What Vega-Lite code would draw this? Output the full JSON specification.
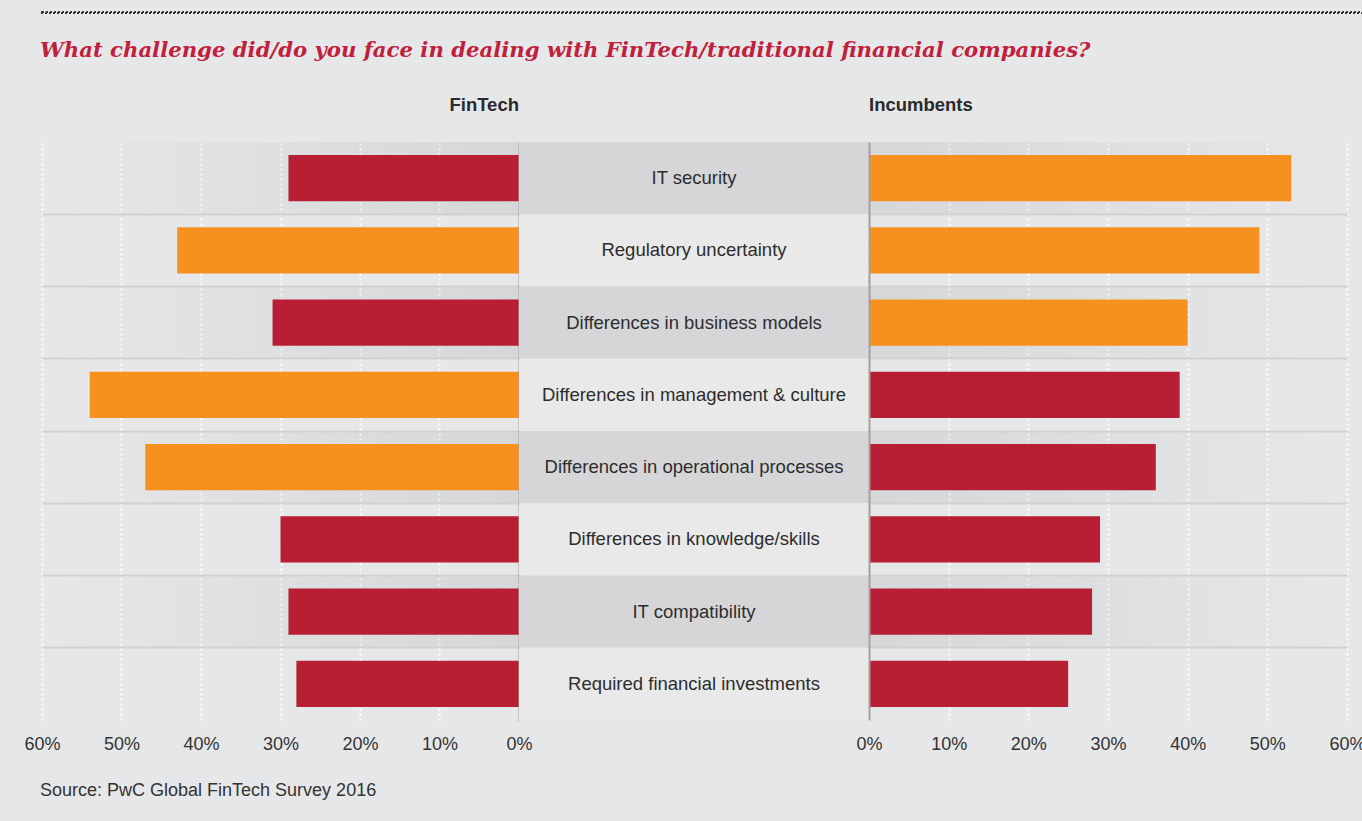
{
  "$schema": "https://vega.github.io/schema/vega-lite/v6.json",
  "background": "#e6e7e9",
  "padding": {"left": 23, "top": 5, "right": 0, "bottom": 31},
  "config": {
    "font": "Liberation Sans",
    "view": {"stroke": null},
    "title": {"font": "Liberation Sans", "color": "#2a2a2a"}
  },
  "datasets": {
    "survey": [
      {"challenge": "IT security", "rank": 1, "group": "FinTech", "share": 0.29, "top3": "no"},
      {"challenge": "Regulatory uncertainty", "rank": 2, "group": "FinTech", "share": 0.43, "top3": "yes"},
      {"challenge": "Differences in business models", "rank": 3, "group": "FinTech", "share": 0.31, "top3": "no"},
      {"challenge": "Differences in management & culture", "rank": 4, "group": "FinTech", "share": 0.54, "top3": "yes"},
      {"challenge": "Differences in operational processes", "rank": 5, "group": "FinTech", "share": 0.47, "top3": "yes"},
      {"challenge": "Differences in knowledge/skills", "rank": 6, "group": "FinTech", "share": 0.30, "top3": "no"},
      {"challenge": "IT compatibility", "rank": 7, "group": "FinTech", "share": 0.29, "top3": "no"},
      {"challenge": "Required financial investments", "rank": 8, "group": "FinTech", "share": 0.28, "top3": "no"},
      {"challenge": "IT security", "rank": 1, "group": "Incumbents", "share": 0.53, "top3": "yes"},
      {"challenge": "Regulatory uncertainty", "rank": 2, "group": "Incumbents", "share": 0.49, "top3": "yes"},
      {"challenge": "Differences in business models", "rank": 3, "group": "Incumbents", "share": 0.40, "top3": "yes"},
      {"challenge": "Differences in management & culture", "rank": 4, "group": "Incumbents", "share": 0.39, "top3": "no"},
      {"challenge": "Differences in operational processes", "rank": 5, "group": "Incumbents", "share": 0.36, "top3": "no"},
      {"challenge": "Differences in knowledge/skills", "rank": 6, "group": "Incumbents", "share": 0.29, "top3": "no"},
      {"challenge": "IT compatibility", "rank": 7, "group": "Incumbents", "share": 0.28, "top3": "no"},
      {"challenge": "Required financial investments", "rank": 8, "group": "Incumbents", "share": 0.25, "top3": "no"}
    ]
  },
  "spacing": 21,
  "vconcat": [
    {
      "width": 1320,
      "height": 1,
      "view": {"stroke": "#3a3a3a", "strokeDash": [2, 2], "strokeWidth": 2},
      "data": {"values": [{"blank": ""}]},
      "mark": {"type": "text"},
      "encoding": {"text": {"value": ""}}
    },
    {
      "title": {
        "text": "What challenge did/do you face in dealing with FinTech/traditional financial companies?",
        "anchor": "start",
        "frame": "group",
        "font": "DejaVu Serif",
        "fontSize": 21.2,
        "fontStyle": "italic",
        "fontWeight": "bold",
        "color": "#c0203b",
        "offset": 34,
        "dx": -2
      },
      "vconcat": [
        {
          "title": {
            "text": "Source: PwC Global FinTech Survey 2016",
            "orient": "bottom",
            "anchor": "start",
            "frame": "group",
            "fontSize": 18,
            "fontWeight": "normal",
            "color": "#333333",
            "offset": 29,
            "dx": -2
          },
          "bounds": "flush",
          "spacing": 0,
          "resolve": {"scale": {"x": "independent", "color": "independent"}},
          "hconcat": [
            {
              "width": 477,
              "height": 578,
              "title": {"text": "FinTech", "anchor": "end", "frame": "group", "fontSize": 18.5, "fontWeight": "bold", "offset": 28},
              "data": {"name": "survey"},
              "transform": [{"filter": "datum.group === 'FinTech'"}],
              "encoding": {
                "y": {
                  "field": "challenge",
                  "type": "nominal",
                  "sort": ["IT security", "Regulatory uncertainty", "Differences in business models", "Differences in management & culture", "Differences in operational processes", "Differences in knowledge/skills", "IT compatibility", "Required financial investments"],
                  "scale": {"paddingInner": 0, "paddingOuter": 0},
                  "axis": {"orient": "right", "title": null, "labels": false, "ticks": false, "domain": true, "domainColor": "#a49e99", "domainWidth": 2, "grid": true, "gridColor": "#d0d1d3", "gridWidth": 2, "bandPosition": 0, "values": ["Regulatory uncertainty", "Differences in business models", "Differences in management & culture", "Differences in operational processes", "Differences in knowledge/skills", "IT compatibility", "Required financial investments"]}
                }
              },
              "layer": [
                {
                  "transform": [{"filter": "datum.rank % 2 === 1"}],
                  "mark": {"type": "rect", "color": {"gradient": "linear", "x1": 0, "x2": 1, "y1": 0, "y2": 0, "stops": [{"offset": 0, "color": "rgba(0,0,0,0)"}, {"offset": 1, "color": "rgba(0,0,0,0.07)"}]}}
                },
                {
                  "mark": {"type": "bar", "height": {"band": 0.64}},
                  "encoding": {
                    "x": {
                      "field": "share",
                      "type": "quantitative",
                      "scale": {"domain": [0, 0.6], "reverse": true, "nice": false},
                      "axis": {"orient": "bottom", "values": [0, 0.1, 0.2, 0.3, 0.4, 0.5, 0.6], "format": ".0%", "title": null, "ticks": false, "domain": false, "grid": true, "gridColor": "#ffffff", "gridDash": [2, 3], "gridWidth": 2, "labelFontSize": 18, "labelColor": "#333333", "labelPadding": 15, "labelFlush": false, "labelOverlap": false}
                    },
                    "color": {"field": "top3", "type": "nominal", "scale": {"domain": ["yes", "no"], "range": ["#f6911f", "#b81f34"]}, "legend": null}
                  }
                }
              ]
            },
            {
              "width": 350,
              "height": 578,
              "data": {"name": "survey"},
              "transform": [{"filter": "datum.group === 'FinTech'"}],
              "encoding": {
                "y": {"field": "challenge", "type": "nominal", "sort": ["IT security", "Regulatory uncertainty", "Differences in business models", "Differences in management & culture", "Differences in operational processes", "Differences in knowledge/skills", "IT compatibility", "Required financial investments"], "scale": {"paddingInner": 0, "paddingOuter": 0}, "axis": null}
              },
              "layer": [
                {
                  "mark": {"type": "rect"},
                  "encoding": {"fill": {"condition": {"test": "datum.rank % 2 === 1", "value": "#d6d6d8"}, "value": "#e9e9ea"}}
                },
                {
                  "mark": {"type": "text", "fontSize": 18.5, "color": "#2d2d2d", "font": "Liberation Sans"},
                  "encoding": {"text": {"field": "challenge"}}
                }
              ]
            },
            {
              "width": 478,
              "height": 578,
              "title": {"text": "Incumbents", "anchor": "start", "frame": "group", "fontSize": 18.5, "fontWeight": "bold", "offset": 28},
              "data": {"name": "survey"},
              "transform": [{"filter": "datum.group === 'Incumbents'"}],
              "encoding": {
                "y": {
                  "field": "challenge",
                  "type": "nominal",
                  "sort": ["IT security", "Regulatory uncertainty", "Differences in business models", "Differences in management & culture", "Differences in operational processes", "Differences in knowledge/skills", "IT compatibility", "Required financial investments"],
                  "scale": {"paddingInner": 0, "paddingOuter": 0},
                  "axis": {"orient": "left", "title": null, "labels": false, "ticks": false, "domain": true, "domainColor": "#a49e99", "domainWidth": 2, "grid": true, "gridColor": "#d0d1d3", "gridWidth": 2, "bandPosition": 0, "values": ["Regulatory uncertainty", "Differences in business models", "Differences in management & culture", "Differences in operational processes", "Differences in knowledge/skills", "IT compatibility", "Required financial investments"]}
                }
              },
              "layer": [
                {
                  "transform": [{"filter": "datum.rank % 2 === 1"}],
                  "mark": {"type": "rect", "color": {"gradient": "linear", "x1": 0, "x2": 1, "y1": 0, "y2": 0, "stops": [{"offset": 0, "color": "rgba(0,0,0,0.07)"}, {"offset": 1, "color": "rgba(0,0,0,0)"}]}}
                },
                {
                  "mark": {"type": "bar", "height": {"band": 0.64}},
                  "encoding": {
                    "x": {
                      "field": "share",
                      "type": "quantitative",
                      "scale": {"domain": [0, 0.6], "nice": false},
                      "axis": {"orient": "bottom", "values": [0, 0.1, 0.2, 0.3, 0.4, 0.5, 0.6], "format": ".0%", "title": null, "ticks": false, "domain": false, "grid": true, "gridColor": "#ffffff", "gridDash": [2, 3], "gridWidth": 2, "labelFontSize": 18, "labelColor": "#333333", "labelPadding": 15, "labelFlush": false, "labelOverlap": false}
                    },
                    "color": {"field": "top3", "type": "nominal", "scale": {"domain": ["yes", "no"], "range": ["#f6911f", "#b81f34"]}, "legend": null}
                  }
                }
              ]
            }
          ]
        }
      ]
    }
  ]
}
